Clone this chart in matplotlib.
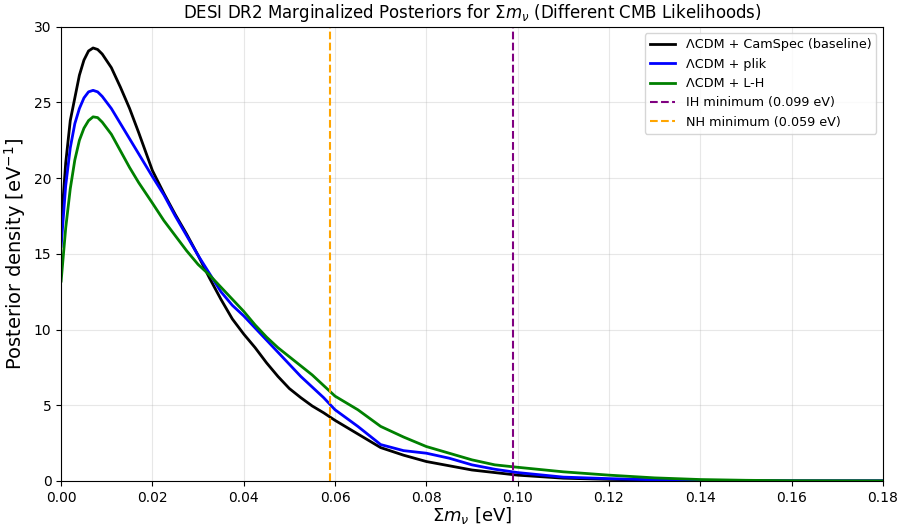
import numpy as np
import matplotlib
matplotlib.use("Agg")
import matplotlib.pyplot as plt

# Valores (Σmν en eV, densidad posterior en 1/eV)
mnu = [0.0, 0.001, 0.002, 0.003, 0.004, 0.005, 0.006, 0.007, 0.008, 0.009,
       0.011, 0.013, 0.015, 0.017, 0.02, 0.0225, 0.025, 0.0275, 0.03, 0.0325,
       0.035, 0.0375, 0.04, 0.0425, 0.045, 0.0475, 0.05, 0.0525, 0.055, 0.0575,
       0.06, 0.065, 0.07, 0.075, 0.08, 0.085, 0.09, 0.095, 0.1, 0.11,
       0.12, 0.13, 0.14, 0.15, 0.16, 0.18]

camspec = [16.8, 21.0, 23.8, 25.3, 26.8, 27.8, 28.4, 28.6, 28.5, 28.2,
           27.3, 26.0, 24.6, 23.0, 20.5, 19.0, 17.6, 16.3, 14.9, 13.4,
           12.0, 10.7, 9.7, 8.8, 7.8, 6.9, 6.1, 5.5, 4.95, 4.5,
           4.0, 3.1, 2.2, 1.7, 1.28, 1.0, 0.72, 0.55, 0.38, 0.18,
           0.1, 0.05, 0.02, 0.01, 0.0, 0.0]

plik = [15.5, 19.5, 22.0, 23.6, 24.6, 25.3, 25.7, 25.8, 25.7, 25.4,
        24.6, 23.6, 22.6, 21.6, 20.1, 18.9, 17.5, 16.2, 14.9, 13.7,
        12.5, 11.6, 10.9, 10.1, 9.3, 8.5, 7.7, 6.9, 6.2, 5.5,
        4.7, 3.6, 2.4, 2.0, 1.83, 1.5, 1.06, 0.77, 0.55, 0.25,
        0.15, 0.07, 0.03, 0.01, 0.0, 0.0]

lh = [13.2, 16.7, 19.3, 21.2, 22.5, 23.3, 23.8, 24.05, 24.0, 23.7,
      22.9, 21.8, 20.7, 19.7, 18.35, 17.2, 16.2, 15.2, 14.3, 13.6,
      12.8, 12.0, 11.2, 10.3, 9.5, 8.8, 8.2, 7.6, 7.0, 6.3,
      5.6, 4.7, 3.6, 2.9, 2.27, 1.83, 1.39, 1.06, 0.9, 0.6,
      0.38, 0.2, 0.09, 0.04, 0.01, 0.0]

ih_min = 0.099
nh_min = 0.059

fig, ax = plt.subplots(figsize=(8.99, 5.25), dpi=100)
fig.subplots_adjust(left=0.068, right=0.982, top=0.949, bottom=0.084)

ax.plot(mnu, camspec, color='black', lw=2, label='ΛCDM + CamSpec (baseline)')
ax.plot(mnu, plik, color='blue', lw=2, label='ΛCDM + plik')
ax.plot(mnu, lh, color='green', lw=2, label='ΛCDM + L-H')
ax.axvline(ih_min, color='purple', ls='--', lw=1.5, label=f'IH minimum ({ih_min} eV)')
ax.axvline(nh_min, color='orange', ls='--', lw=1.5, label=f'NH minimum ({nh_min} eV)')

ax.set_xlim(0, 0.18)
ax.set_ylim(0, 30)
ax.set_xlabel(r'$\Sigma m_\nu$ [eV]', fontsize=13, labelpad=0)
ax.set_ylabel(r'Posterior density [eV$^{-1}$]', fontsize=14)
ax.set_title(r'DESI DR2 Marginalized Posteriors for $\Sigma m_\nu$ (Different CMB Likelihoods)', fontsize=12)
ax.grid(True, alpha=0.3)
ax.legend(loc='upper right', fontsize=9.2)

fig.savefig("out.png", dpi=100)
